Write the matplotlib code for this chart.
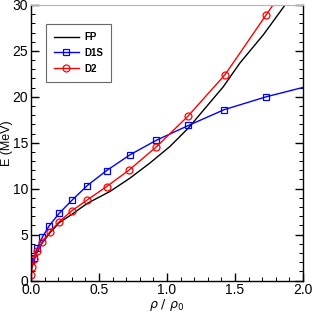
import matplotlib
matplotlib.use('Agg')
import matplotlib.pyplot as plt
from matplotlib.ticker import MultipleLocator

plt.rcParams['font.family'] = ['Liberation Sans', 'DejaVu Sans']

# FP (line only)
fp_x = [0.0, 0.005, 0.022, 0.046, 0.083, 0.14, 0.208, 0.30, 0.414, 0.581, 0.728,
        0.875, 1.022, 1.157, 1.414, 1.537, 1.708, 1.868, 1.95]
fp_y = [0.0, 1.3, 2.2, 3.1, 4.1, 5.2, 6.3, 7.2, 8.4, 9.7, 11.15,
        12.8, 14.6, 16.6, 21.1, 23.7, 26.75, 30.0, 31.7]

# D1S (blue squares)
d1s_x = [0.003, 0.022, 0.046, 0.083, 0.135, 0.208, 0.304, 0.414, 0.556, 0.728,
         0.919, 1.157, 1.42, 1.728, 2.1]
d1s_y = [2.1, 2.42, 3.51, 4.71, 5.98, 7.33, 8.78, 10.34, 11.97, 13.69,
         15.25, 16.88, 18.6, 20.0, 21.4]

# D2 (red circles)
d2_x = [0.001, 0.005, 0.022, 0.046, 0.083, 0.14, 0.208, 0.299, 0.414, 0.556,
        0.723, 0.919, 1.152, 1.426, 1.728, 2.03]
d2_y = [0.6, 1.44, 2.31, 3.22, 4.23, 5.32, 6.41, 7.58, 8.78, 10.23,
        12.05, 14.52, 17.86, 22.4, 28.9, 35.4]

fig = plt.figure(figsize=(3.12, 3.13), dpi=100)
ax = fig.add_axes([31/312, 1 - 280.5/313, (303-31)/312, (280.5-5)/313])

ax.plot(fp_x, fp_y, color='black', lw=1.0, label='FP')
ax.plot(d1s_x, d1s_y, color='blue', lw=1.0, marker='s', ms=4.5, mfc='none',
        mew=0.9, label='D1S')
ax.plot(d2_x, d2_y, color='red', lw=1.0, marker='o', ms=5, mfc='none',
        mew=0.9, label='D2')

ax.set_xlim(0, 2.0)
ax.set_ylim(0, 30)
ax.xaxis.set_major_locator(MultipleLocator(0.5))
ax.xaxis.set_minor_locator(MultipleLocator(0.1))
ax.yaxis.set_major_locator(MultipleLocator(5))
ax.yaxis.set_minor_locator(MultipleLocator(1))
ax.xaxis.set_major_formatter(matplotlib.ticker.FormatStrFormatter('%.1f'))
ax.tick_params(which='both', direction='in', top=False, right=True,
               labelsize=10, pad=2)
ax.tick_params(which='major', length=6, width=1)
ax.tick_params(which='minor', length=3, width=0.7)
ax.spines['top'].set_color('#b4b4b4')
for s in ['left', 'right', 'bottom']:
    ax.spines[s].set_linewidth(1.0)

ax.set_xlabel(r'$\rho\ /\ \rho_0$', fontsize=9, labelpad=0)
ax.set_ylabel('E (MeV)', fontsize=9)
ax.yaxis.set_label_coords(-0.066, 0.5)

leg = ax.legend(loc='upper left', bbox_to_anchor=(0.055, 0.93),
                prop={'weight': 'bold', 'size': 7}, fancybox=False,
                handlelength=2.6, borderpad=0.8, labelspacing=0.6,
                handletextpad=0.5, borderaxespad=0)
leg.get_frame().set_edgecolor('#444444')
leg.get_frame().set_linewidth(0.8)

fig.savefig('out.png', dpi=100)
